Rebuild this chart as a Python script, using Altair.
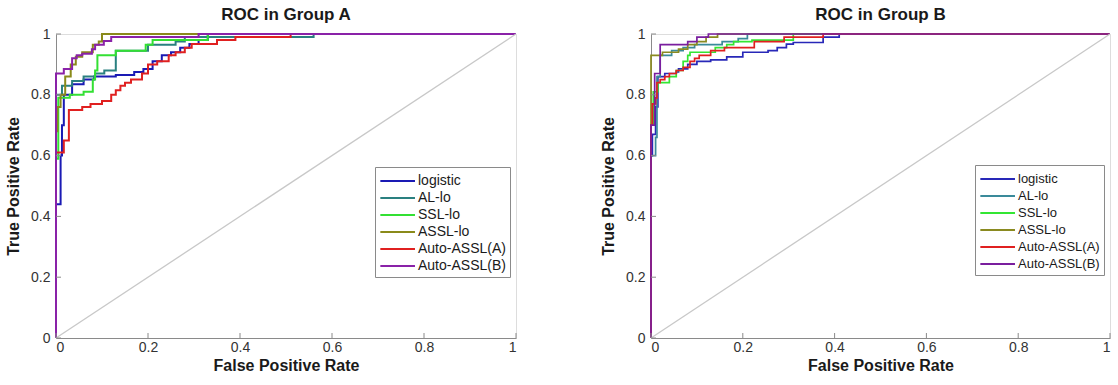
import altair as alt
import pandas as pd

FONT = "Liberation Sans"

SERIES = ["logistic", "AL-lo", "SSL-lo", "ASSL-lo", "Auto-ASSL(A)", "Auto-ASSL(B)"]

# ---------------- Group A ----------------
A_logistic_fpr = [0, 0, 0.01, 0.013, 0.017, 0.035, 0.06, 0.083, 0.13, 0.17, 0.19, 0.21, 0.23, 0.25, 0.27, 0.29, 0.31, 0.33, 1]
A_logistic_tpr = [0, 0.44, 0.60, 0.70, 0.80, 0.835, 0.85, 0.86, 0.865, 0.875, 0.885, 0.91, 0.93, 0.94, 0.955, 0.967, 0.98, 1.0, 1]
A_al_fpr = [0, 0, 0.013, 0.035, 0.06, 0.085, 0.105, 0.13, 0.2, 0.26, 0.28, 0.56, 1]
A_al_tpr = [0, 0.80, 0.83, 0.845, 0.86, 0.87, 0.88, 0.945, 0.965, 0.975, 0.99, 1.0, 1]
A_ssl_fpr = [0, 0, 0.005, 0.03, 0.06, 0.08, 0.085, 0.09, 0.13, 0.195, 0.21, 0.33, 1]
A_ssl_tpr = [0, 0.59, 0.79, 0.80, 0.81, 0.85, 0.88, 0.93, 0.945, 0.965, 0.98, 1.0, 1]
A_assl_fpr = [0, 0, 0.003, 0.01, 0.02, 0.032, 0.043, 0.057, 0.08, 0.093, 0.1, 1]
A_assl_tpr = [0, 0.68, 0.76, 0.80, 0.86, 0.90, 0.925, 0.94, 0.965, 0.975, 1.0, 1]
A_autoa_fpr = [0, 0, 0.017, 0.028, 0.057, 0.075, 0.1, 0.12, 0.13, 0.14, 0.15, 0.163, 0.187, 0.2, 0.22, 0.245, 0.26, 0.28, 0.295, 0.35, 0.39, 0.51, 1]
A_autoa_tpr = [0, 0.61, 0.65, 0.75, 0.76, 0.77, 0.78, 0.80, 0.815, 0.83, 0.84, 0.85, 0.87, 0.90, 0.91, 0.93, 0.94, 0.955, 0.967, 0.98, 0.99, 1.0, 1]
A_autob_fpr = [0, 0, 0.017, 0.035, 0.045, 0.057, 0.078, 0.085, 0.104, 0.12, 0.31, 1]
A_autob_tpr = [0, 0.87, 0.885, 0.92, 0.93, 0.935, 0.95, 0.965, 0.977, 0.99, 1.0, 1]

# ---------------- Group B ----------------
B_logistic_fpr = [0, 0, 0.003, 0.01, 0.015, 0.03, 0.055, 0.06, 0.08, 0.1, 0.13, 0.165, 0.2, 0.255, 0.275, 0.295, 0.31, 0.375, 0.41, 1]
B_logistic_tpr = [0, 0.60, 0.67, 0.76, 0.86, 0.87, 0.875, 0.885, 0.90, 0.91, 0.915, 0.925, 0.94, 0.945, 0.955, 0.967, 0.972, 0.99, 1.0, 1]
B_al_fpr = [0, 0, 0.01, 0.013, 0.02, 0.045, 0.07, 0.095, 0.155, 0.19, 0.21, 1]
B_al_tpr = [0, 0.60, 0.66, 0.86, 0.93, 0.945, 0.955, 0.965, 0.975, 0.985, 1.0, 1]
B_ssl_fpr = [0, 0, 0.005, 0.015, 0.04, 0.055, 0.07, 0.08, 0.085, 0.14, 0.165, 0.18, 0.22, 0.31, 1]
B_ssl_tpr = [0, 0.70, 0.81, 0.84, 0.86, 0.88, 0.91, 0.93, 0.94, 0.955, 0.965, 0.975, 0.98, 1.0, 1]
B_assl_fpr = [0, 0, 0.025, 0.06, 0.08, 0.1, 0.12, 0.145, 1]
B_assl_tpr = [0, 0.93, 0.94, 0.95, 0.965, 0.975, 0.99, 1.0, 1]
B_autoa_fpr = [0, 0, 0.003, 0.01, 0.013, 0.02, 0.03, 0.04, 0.055, 0.07, 0.085, 0.095, 0.105, 0.13, 0.16, 0.225, 0.29, 0.375, 1]
B_autoa_tpr = [0, 0.70, 0.77, 0.79, 0.84, 0.85, 0.86, 0.87, 0.88, 0.89, 0.91, 0.92, 0.93, 0.945, 0.955, 0.975, 0.99, 1.0, 1]
B_autob_fpr = [0, 0, 0.008, 0.02, 0.08, 0.1, 0.125, 1]
B_autob_tpr = [0, 0.70, 0.87, 0.965, 0.975, 0.99, 1.0, 1]

A_colors = ["#1a1ab4", "#2a8080", "#33e033", "#8a8a1a", "#e02020", "#8a22a8"]
B_colors = ["#2828b8", "#3a8a9a", "#33e633", "#8a8a20", "#e02020", "#7a1e9e"]

diag_x = [0, 1]
diag_y = [0, 1]
tick_values = [0, 0.2, 0.4, 0.6, 0.8, 1]

H = 304


def build_df(pairs):
    rows = []
    for name, (fx, ty) in zip(SERIES, pairs):
        for i, (f, t) in enumerate(zip(fx, ty)):
            rows.append({"series": name, "idx": i, "fpr": f, "tpr": t})
    return pd.DataFrame(rows)


def panel(pairs, colors, title, lx, ly, width, lw, legend_font):
    df = build_df(pairs)
    xs = alt.Scale(domain=[0, 1], nice=False, zero=False)
    ys = alt.Scale(domain=[0, 1], nice=False, zero=False)
    ax_x = alt.Axis(title="False Positive Rate", values=tick_values, format="~g", ticks=False,
                    grid=False, domainColor="#8a8a8a", labelFont=FONT, labelFontSize=14,
                    labelColor="#333333", labelPadding=2, titleFont=FONT, titleFontSize=16,
                    titleFontWeight="bold", titleColor="#1a1a1a", titlePadding=3)
    ax_y = alt.Axis(title="True Positive Rate", values=tick_values, format="~g", ticks=False,
                    grid=False, domainColor="#8a8a8a", labelFont=FONT, labelFontSize=14,
                    labelColor="#333333", labelPadding=6, titleFont=FONT, titleFontSize=16,
                    titleFontWeight="bold", titleColor="#1a1a1a", titlePadding=9)
    lines = alt.Chart(df).mark_line(interpolate="step-after", strokeWidth=lw).encode(
        x=alt.X("fpr:Q", scale=xs, axis=ax_x),
        y=alt.Y("tpr:Q", scale=ys, axis=ax_y),
        color=alt.Color("series:N", scale=alt.Scale(domain=SERIES, range=colors),
                        legend=alt.Legend(title=None, orient="none", legendX=lx, legendY=ly,
                                          symbolType="M-1,0H3", symbolSize=300,
                                          symbolStrokeWidth=2, labelFont=FONT,
                                          labelFontSize=legend_font, labelColor="#1a1a1a",
                                          labelOffset=19, rowPadding=0, padding=4,
                                          strokeColor="#8a8a8a", fillColor="white")),
        order="idx:Q")
    diag = alt.Chart(pd.DataFrame({"fpr": diag_x, "tpr": diag_y})).mark_line(
        color="#c8c8c8", strokeWidth=1.3).encode(
        x=alt.X("fpr:Q", scale=xs, axis=ax_x), y=alt.Y("tpr:Q", scale=ys, axis=ax_y))
    tdf = pd.DataFrame({"t": tick_values})
    xt = alt.Chart(tdf).mark_rule(color="#8a8a8a").encode(
        x=alt.X("t:Q", scale=xs, axis=ax_x), y=alt.value(H), y2=alt.value(H - 5))
    yt = alt.Chart(tdf).mark_rule(color="#8a8a8a").encode(
        y=alt.Y("t:Q", scale=ys, axis=ax_y), x=alt.value(0), x2=alt.value(5))
    return alt.layer(lines, diag, xt, yt).properties(
        width=width, height=H,
        title=alt.TitleParams(title, font=FONT, fontSize=17, fontWeight="bold",
                              color="#1a1a1a", anchor="middle", offset=3))


A_pairs = [(A_logistic_fpr, A_logistic_tpr), (A_al_fpr, A_al_tpr), (A_ssl_fpr, A_ssl_tpr),
           (A_assl_fpr, A_assl_tpr), (A_autoa_fpr, A_autoa_tpr), (A_autob_fpr, A_autob_tpr)]
B_pairs = [(B_logistic_fpr, B_logistic_tpr), (B_al_fpr, B_al_tpr), (B_ssl_fpr, B_ssl_tpr),
           (B_assl_fpr, B_assl_tpr), (B_autoa_fpr, B_autoa_tpr), (B_autob_fpr, B_autob_tpr)]

left = panel(A_pairs, A_colors, "ROC in Group A", 319, 133, 460, 2, 14)
right = panel(B_pairs, B_colors, "ROC in Group B", 324, 131, 459, 1.7, 13)

chart = alt.hconcat(left, right, spacing=79).resolve_scale(color="independent").properties(
    padding={"left": 5, "top": 5, "right": 0, "bottom": 0}
).configure_view(stroke=None).configure(background="white")

chart.save("out.html", embed_options={"renderer": "svg", "actions": False})
